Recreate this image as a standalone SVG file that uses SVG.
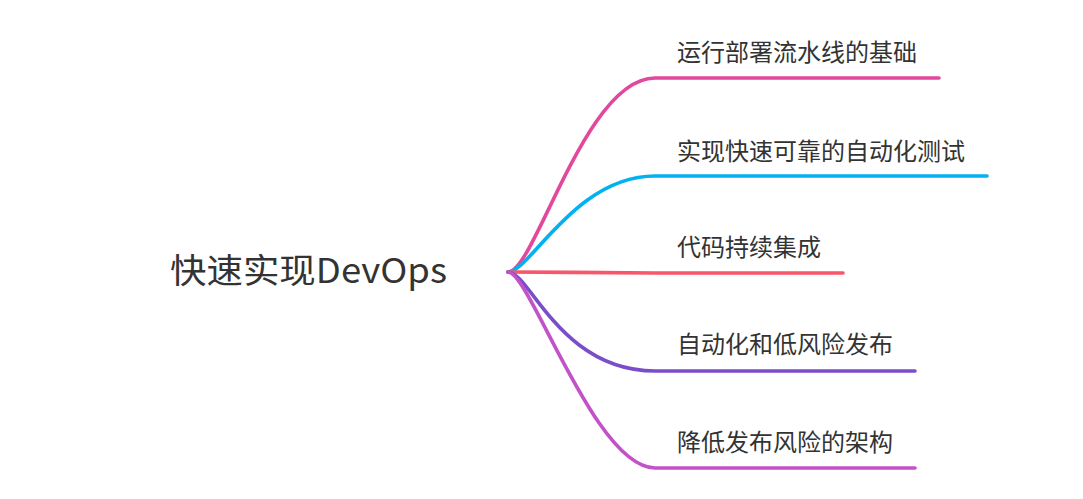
<svg xmlns="http://www.w3.org/2000/svg" width="1083" height="499" viewBox="0 0 1083 499">
<style>
.lbl{font-family:"Microsoft YaHei","Noto Sans CJK SC",sans-serif;font-size:24px;fill:#333;}
.root{font-family:"Microsoft YaHei","Noto Sans CJK SC",sans-serif;font-size:34px;fill:#333;}
.c{fill:none;stroke-width:3.6;stroke-linecap:round;}
</style>
<rect width="1083" height="499" fill="#fff"/>
<g id="connectors">
<path class="c" stroke="#E2489B" d="M508 272 C535 272 585 78 655 78 L939 78"/>
<path class="c" stroke="#00B2EF" d="M508 272 C530 272 575 176 655 176 L987 176"/>
<path class="c" stroke="#F7566B" d="M508 272 C560 272 600 273 655 273 L843 273"/>
<path class="c" stroke="#7A4EC9" d="M508 272 C530 272 560 371 655 371 L915 371"/>
<path class="c" stroke="#C252C8" d="M508 272 C530 272 595 468 655 468 L915 468"/>
</g>
<g id="root"><text class="root" x="170" y="283" textLength="277" lengthAdjust="spacingAndGlyphs">快速实现DevOps</text></g>
<g id="n1"><text class="lbl" x="677" y="61">运行部署流水线的基础</text></g>
<g id="n2"><text class="lbl" x="677" y="160">实现快速可靠的自动化测试</text></g>
<g id="n3"><text class="lbl" x="677" y="256">代码持续集成</text></g>
<g id="n4"><text class="lbl" x="677" y="353">自动化和低风险发布</text></g>
<g id="n5"><text class="lbl" x="677" y="451">降低发布风险的架构</text></g>
</svg>
